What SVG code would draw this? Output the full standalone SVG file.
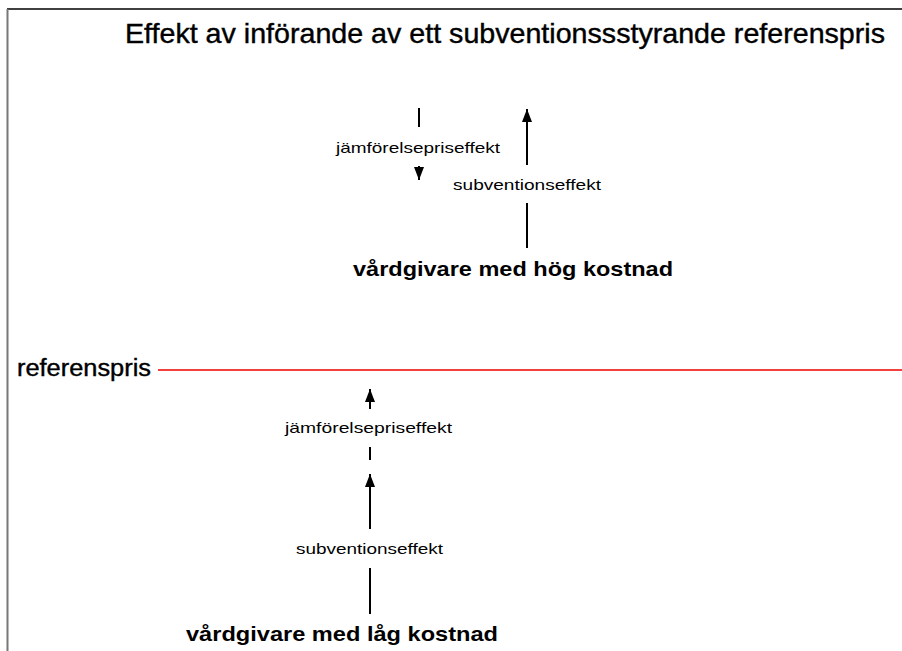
<svg xmlns="http://www.w3.org/2000/svg" width="902" height="651" viewBox="0 0 902 651">
<defs>
<marker id="ah" viewBox="0 0 13 10" refX="13" refY="5" markerWidth="13" markerHeight="10" markerUnits="userSpaceOnUse" orient="auto">
<path d="M0,0 L13,5 L0,10 z" fill="#000"/>
</marker>
<style>
text{font-family:"Liberation Sans",Arial,sans-serif;fill:#000}
.title{font-size:28px;stroke:#000;stroke-width:0.4}
.big{font-size:21px;font-weight:bold}
.ref{font-size:23px;stroke:#000;stroke-width:0.4}
.lab{font-size:15px}
.ln{stroke:#000;stroke-width:2;fill:none}
</style>
</defs>
<rect width="902" height="651" fill="#fff"/>
<g id="frame">
<line x1="7" y1="9" x2="902" y2="9" stroke="#000" stroke-width="1.5"/>
<line x1="7.5" y1="9" x2="7.5" y2="651" stroke="#777" stroke-width="2"/>
</g>
<g id="title"><text class="title" x="125" y="43" textLength="760" lengthAdjust="spacingAndGlyphs">Effekt av införande av ett subventionssstyrande referenspris</text></g>
<g id="referenspris">
<text class="ref" x="17" y="376" textLength="134" lengthAdjust="spacingAndGlyphs">referenspris</text>
<line x1="158" y1="370" x2="902" y2="370" stroke="#e00" stroke-width="1.5"/>
</g>
<g id="hog"><text class="big" x="353" y="276" textLength="320" lengthAdjust="spacingAndGlyphs">vårdgivare med hög kostnad</text></g>
<g id="lag"><text class="big" x="186" y="641" textLength="312" lengthAdjust="spacingAndGlyphs">vårdgivare med låg kostnad</text></g>
<g id="connectors">
<line class="ln" x1="419" y1="108" x2="419" y2="127"/>
<line class="ln" x1="419" y1="166" x2="419" y2="180" marker-end="url(#ah)"/>
<line class="ln" x1="527" y1="165" x2="527" y2="109" marker-end="url(#ah)"/>
<line class="ln" x1="527" y1="203" x2="527" y2="248"/>
<line class="ln" x1="370" y1="409" x2="370" y2="389" marker-end="url(#ah)"/>
<line class="ln" x1="370" y1="447" x2="370" y2="460"/>
<line class="ln" x1="370" y1="529" x2="370" y2="474" marker-end="url(#ah)"/>
<line class="ln" x1="370" y1="568" x2="370" y2="614"/>
</g>
<g id="labels">
<text class="lab" x="336" y="153" textLength="164" lengthAdjust="spacingAndGlyphs">jämförelsepriseffekt</text>
<text class="lab" x="453" y="190" textLength="148" lengthAdjust="spacingAndGlyphs">subventionseffekt</text>
<text class="lab" x="285" y="433" textLength="167" lengthAdjust="spacingAndGlyphs">jämförelsepriseffekt</text>
<text class="lab" x="296" y="554" textLength="147" lengthAdjust="spacingAndGlyphs">subventionseffekt</text>
</g>
</svg>
